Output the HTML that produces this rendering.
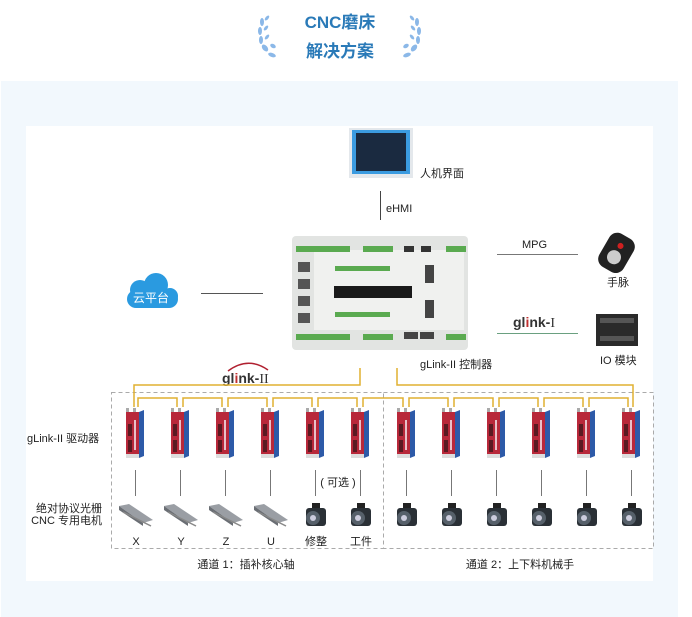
<!DOCTYPE html>
<html><head><meta charset="utf-8"><style>
html,body{margin:0;padding:0;background:#fff;}
svg{display:block;font-family:"Liberation Sans","Noto Sans CJK SC",sans-serif;}
</style></head><body>
<svg width="692" height="617" viewBox="0 0 692 617" xmlns="http://www.w3.org/2000/svg">
<defs>
<g id="drv">
  <rect x="-9" y="-2" width="3" height="4" fill="#aaa"/><rect x="-2" y="-2" width="3" height="4" fill="#aaa"/>
  <rect x="-9" y="2" width="13" height="46" fill="#b8283a"/>
  <polygon points="4,2 9,0 9,46 4,48" fill="#2d5aa8"/>
  <rect x="-7" y="14" width="4" height="12" fill="#5a1a22"/>
  <rect x="-7" y="30" width="4" height="12" fill="#5a1a22"/>
  <rect x="-1" y="10" width="2" height="30" fill="#e8c0c8"/>
  <rect x="-9" y="44" width="13" height="4" fill="#ddd"/>
</g>
<g id="mot">
  <rect x="-4" y="-13" width="8" height="6" fill="#222"/>
  <rect x="-10" y="-8" width="20" height="18" rx="3" fill="#2a3036"/>
  <circle cx="-3" cy="2" r="7" fill="#56606a"/>
  <circle cx="-3" cy="2" r="3" fill="#ccd"/>
</g>
<g id="rail">
  <polygon points="-16,-8 -6,-10 18,6 8,9" fill="#9a9ea4"/>
  <polygon points="-16,-8 8,9 8,12 -16,-4" fill="#6a6e74"/>
  <line x1="-12" y1="-2" x2="16" y2="12" stroke="#888" stroke-width="1.5"/>
</g>
</defs>
<rect x="1" y="81" width="677" height="536" fill="#f2f8fd"/>
<rect x="26" y="126" width="627" height="455" fill="#fff"/>

<!-- title -->
<text x="340" y="28" text-anchor="middle" font-size="17" font-weight="bold" fill="#2a7ab8">CNC磨床</text>
<text x="340" y="57" text-anchor="middle" font-size="17" font-weight="bold" fill="#2a7ab8">解决方案</text>
<g fill="#8bb8e8">
<ellipse cx="262" cy="22" rx="2" ry="4"/><ellipse cx="260" cy="31" rx="2" ry="4"/><ellipse cx="261" cy="40" rx="2" ry="4"/><ellipse cx="265" cy="48" rx="2.5" ry="4" transform="rotate(-40 265 48)"/><ellipse cx="272" cy="55" rx="4" ry="2" transform="rotate(20 272 55)"/>
<ellipse cx="267" cy="18" rx="1.5" ry="3" transform="rotate(40 267 18)"/><ellipse cx="266" cy="28" rx="1.5" ry="3" transform="rotate(40 266 28)"/><ellipse cx="267" cy="37" rx="1.5" ry="3" transform="rotate(40 267 37)"/><ellipse cx="273" cy="46" rx="3" ry="2" transform="rotate(30 273 46)"/>
<ellipse cx="417" cy="22" rx="2" ry="4"/><ellipse cx="419" cy="31" rx="2" ry="4"/><ellipse cx="418" cy="40" rx="2" ry="4"/><ellipse cx="414" cy="48" rx="2.5" ry="4" transform="rotate(40 414 48)"/><ellipse cx="407" cy="55" rx="4" ry="2" transform="rotate(-20 407 55)"/>
<ellipse cx="412" cy="18" rx="1.5" ry="3" transform="rotate(-40 412 18)"/><ellipse cx="413" cy="28" rx="1.5" ry="3" transform="rotate(-40 413 28)"/><ellipse cx="412" cy="37" rx="1.5" ry="3" transform="rotate(-40 412 37)"/><ellipse cx="406" cy="46" rx="3" ry="2" transform="rotate(-30 406 46)"/>
</g>

<!-- monitor -->
<rect x="349" y="128" width="64" height="50" fill="#e4e8ec"/>
<rect x="352" y="130" width="58" height="44" fill="#3b9be0"/>
<rect x="356" y="133" width="50" height="38" fill="#1a2a40"/>
<text x="420" y="177" font-size="11" fill="#222">人机界面</text>
<line x1="380.5" y1="191" x2="380.5" y2="220" stroke="#444"/>
<text x="386" y="212" font-size="11" fill="#222">eHMI</text>

<!-- controller -->
<rect x="292" y="236" width="176" height="114" rx="4" fill="#e2e4e2"/>
<rect x="314" y="250" width="150" height="80" fill="#f0f1ef"/>
<rect x="296" y="246" width="54" height="6" fill="#5aaa50"/><rect x="363" y="246" width="30" height="6" fill="#5aaa50"/><rect x="446" y="246" width="20" height="6" fill="#5aaa50"/>
<rect x="404" y="246" width="10" height="6" fill="#333"/><rect x="421" y="246" width="10" height="6" fill="#333"/>
<rect x="296" y="334" width="54" height="6" fill="#5aaa50"/><rect x="363" y="334" width="30" height="6" fill="#5aaa50"/><rect x="446" y="334" width="20" height="6" fill="#5aaa50"/>
<rect x="404" y="332" width="14" height="7" fill="#444"/><rect x="420" y="332" width="14" height="7" fill="#444"/>
<rect x="335" y="266" width="55" height="5" fill="#5aaa50"/><rect x="335" y="312" width="55" height="5" fill="#5aaa50"/>
<rect x="334" y="286" width="78" height="12" fill="#1a1a1a"/>
<rect x="298" y="262" width="12" height="10" fill="#555"/><rect x="298" y="279" width="12" height="10" fill="#555"/><rect x="298" y="296" width="12" height="10" fill="#555"/><rect x="298" y="313" width="12" height="10" fill="#555"/>
<rect x="425" y="265" width="9" height="18" fill="#444"/><rect x="425" y="300" width="9" height="18" fill="#444"/>

<!-- cloud -->
<g fill="#2a9ae0">
<circle cx="140" cy="290" r="10"/><circle cx="156" cy="285" r="12"/><circle cx="170" cy="296" r="8"/>
<rect x="127" y="290" width="51" height="18" rx="9"/>
</g>
<text x="151" y="302" text-anchor="middle" font-size="12" fill="#fff">云平台</text>
<line x1="201" y1="293.5" x2="263" y2="293.5" stroke="#555"/>

<!-- MPG -->
<text x="522" y="248" font-size="11" fill="#222">MPG</text>
<line x1="497" y1="254.5" x2="578" y2="254.5" stroke="#777"/>
<g transform="rotate(30 617 252)">
<rect x="603" y="234" width="28" height="38" rx="9" fill="#222"/>
<circle cx="617" cy="245" r="3" fill="#d02020"/>
<circle cx="617" cy="258" r="7" fill="#ccc"/>
</g>
<text x="607" y="286" font-size="11" fill="#222">手脉</text>

<!-- glink-I -->
<text x="513" y="327" font-size="14" font-weight="bold" fill="#333">gl<tspan fill="#c03030">i</tspan>nk-<tspan font-weight="normal" font-family="Liberation Serif">I</tspan></text>
<line x1="497" y1="333.5" x2="578" y2="333.5" stroke="#6aa080"/>
<rect x="596" y="314" width="42" height="32" fill="#2a2a2a"/>
<rect x="600" y="318" width="34" height="5" fill="#555"/><rect x="600" y="336" width="34" height="5" fill="#555"/>
<text x="600" y="364" font-size="11" fill="#222">IO 模块</text>
<text x="420" y="368" font-size="11" fill="#222">gLink-II 控制器</text>

<!-- glink-II logo -->
<path d="M228,371 Q248,356 268,370" stroke="#b02030" stroke-width="1.5" fill="none"/>
<text x="222" y="383" font-size="14" font-weight="bold" fill="#333">gl<tspan fill="#c03030">i</tspan>nk-<tspan font-weight="normal" font-family="Liberation Serif">II</tspan></text>

<!-- dashed boxes -->
<rect x="111.5" y="392.5" width="272" height="156" fill="none" stroke="#aaa" stroke-dasharray="4,3"/>
<rect x="383.5" y="392.5" width="270" height="156" fill="none" stroke="#aaa" stroke-dasharray="4,3"/>

<!-- bus -->
<g stroke="#e0b030" stroke-width="1.5" fill="none">
<path d="M360,368 V385 H134 V407"/>
<path d="M397,368 V385 H633 V407"/>
<path d="M138,407 V398 H177 V407 M183,407 V398 H222 V407 M228,407 V398 H267 V407 M273,407 V398 H312 V407 M318,407 V398 H357 V407 M363,407 V398 H383"/>
<path d="M383,398 H403 V407 M409,407 V398 H448 V407 M454,407 V398 H493 V407 M499,407 V398 H538 V407 M544,407 V398 H583 V407 M589,407 V398 H628 V407"/>
</g>

<!-- drivers -->
<use href="#drv" x="135" y="410"/><use href="#drv" x="180" y="410"/><use href="#drv" x="225" y="410"/><use href="#drv" x="270" y="410"/><use href="#drv" x="315" y="410"/><use href="#drv" x="360" y="410"/>
<use href="#drv" x="406" y="410"/><use href="#drv" x="451" y="410"/><use href="#drv" x="496" y="410"/><use href="#drv" x="541" y="410"/><use href="#drv" x="586" y="410"/><use href="#drv" x="631" y="410"/>
<text x="27" y="442" font-size="11" fill="#222">gLink-II 驱动器</text>

<!-- connector lines -->
<g stroke="#777">
<line x1="135.5" y1="470" x2="135.5" y2="496"/><line x1="180.5" y1="470" x2="180.5" y2="496"/><line x1="225.5" y1="470" x2="225.5" y2="496"/><line x1="270.5" y1="470" x2="270.5" y2="496"/><line x1="315.5" y1="470" x2="315.5" y2="496"/><line x1="360.5" y1="470" x2="360.5" y2="496"/>
<line x1="406.5" y1="470" x2="406.5" y2="496"/><line x1="451.5" y1="470" x2="451.5" y2="496"/><line x1="496.5" y1="470" x2="496.5" y2="496"/><line x1="541.5" y1="470" x2="541.5" y2="496"/><line x1="586.5" y1="470" x2="586.5" y2="496"/><line x1="631.5" y1="470" x2="631.5" y2="496"/>
</g>
<text x="338" y="486" text-anchor="middle" font-size="11" fill="#222">( 可选 )</text>

<!-- motors/rails -->
<use href="#rail" x="135" y="514"/><use href="#rail" x="180" y="514"/><use href="#rail" x="225" y="514"/><use href="#rail" x="270" y="514"/>
<use href="#mot" x="316" y="516"/><use href="#mot" x="361" y="516"/>
<use href="#mot" x="407" y="516"/><use href="#mot" x="452" y="516"/><use href="#mot" x="497" y="516"/><use href="#mot" x="542" y="516"/><use href="#mot" x="587" y="516"/><use href="#mot" x="632" y="516"/>
<text x="102" y="512" text-anchor="end" font-size="11" fill="#222">绝对协议光栅</text>
<text x="102" y="524" text-anchor="end" font-size="11" fill="#222">CNC 专用电机</text>
<g font-size="11" fill="#222" text-anchor="middle">
<text x="136" y="545">X</text><text x="181" y="545">Y</text><text x="226" y="545">Z</text><text x="271" y="545">U</text><text x="316" y="545">修整</text><text x="361" y="545">工件</text>
</g>
<text x="246" y="568" text-anchor="middle" font-size="11" fill="#222">通道 1：插补核心轴</text>
<text x="520" y="568" text-anchor="middle" font-size="11" fill="#222">通道 2：上下料机械手</text>
</svg>
</body></html>
